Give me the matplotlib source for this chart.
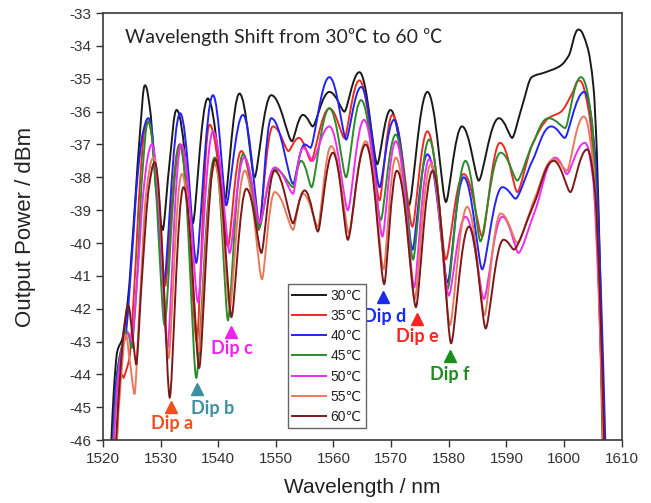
import numpy as np
import matplotlib
matplotlib.use("Agg")
import matplotlib.pyplot as plt
from matplotlib.path import Path
from matplotlib.patches import PathPatch
from matplotlib.lines import Line2D

# ---------------- data ----------------
temps = ["30℃", "35℃", "40℃", "45℃", "50℃", "55℃", "60℃"]

wl_30 = [1521.4, 1521.9, 1522.5, 1523.4, 1524.3, 1525.5, 1526.5, 1527.3, 1528.2, 1529.3, 1530.4, 1531.6, 1532.8, 1535.6, 1538.2, 1541.1, 1543.7, 1546.3, 1549.2, 1552.8, 1554.7, 1556.4, 1559.3, 1561.9, 1564.5, 1567.6, 1569.9, 1573.1, 1576.3, 1579.5, 1582.3, 1585.2, 1588.7, 1591.0, 1592.7, 1594.4, 1596.8, 1599.4, 1600.8, 1602.5, 1604.0, 1605.1, 1605.7, 1606.3, 1607.0]
pw_30 = [-46.3, -44.5, -43.3, -42.9, -41.8, -39.0, -36.5, -35.2, -35.95, -38.5, -39.6, -37.5, -35.95, -39.4, -35.6, -38.8, -35.45, -38.0, -35.5, -36.9, -36.1, -36.45, -35.4, -36.0, -34.8, -37.6, -35.95, -38.85, -35.4, -38.75, -36.45, -38.1, -36.2, -36.8, -35.85, -34.95, -34.8, -34.6, -34.3, -33.5, -34.0, -35.25, -37.3, -41.3, -46.3]

wl_35 = [1522.4, 1522.8, 1523.2, 1523.6, 1524.0, 1524.6, 1525.4, 1526.5, 1527.2, 1527.8, 1530.8, 1533.3, 1536.3, 1538.5, 1541.7, 1544.0, 1547.0, 1549.5, 1552.2, 1554.0, 1556.1, 1559.3, 1561.9, 1564.5, 1568.0, 1570.2, 1573.7, 1576.3, 1579.5, 1582.6, 1585.8, 1588.9, 1591.9, 1594.5, 1597.3, 1599.5, 1601.4, 1602.6, 1604.3, 1605.3, 1606.0, 1606.7]
pw_35 = [-46.3, -44.4, -44.0, -44.1, -43.9, -43.5, -41.5, -38.0, -36.6, -36.3, -41.3, -37.0, -43.0, -36.4, -40.1, -37.2, -39.6, -36.45, -37.2, -36.8, -37.5, -35.9, -36.8, -35.05, -38.7, -36.1, -39.5, -36.6, -40.5, -37.9, -39.8, -36.95, -38.45, -37.0, -36.2, -36.0, -35.45, -35.05, -36.0, -38.0, -41.0, -46.3]

wl_40 = [1521.6, 1522.3, 1523.1, 1523.9, 1525.0, 1526.0, 1527.0, 1527.9, 1530.6, 1533.4, 1536.2, 1539.1, 1541.4, 1544.3, 1547.2, 1549.2, 1553.0, 1555.0, 1556.0, 1559.3, 1562.2, 1564.8, 1568.0, 1570.5, 1573.7, 1576.3, 1579.8, 1582.6, 1585.8, 1589.3, 1591.6, 1594.5, 1597.8, 1600.1, 1603.5, 1605.4, 1606.4, 1607.2]
pw_40 = [-46.3, -44.2, -43.3, -42.85, -40.5, -38.0, -36.6, -36.2, -41.2, -36.05, -40.6, -35.5, -38.85, -36.1, -39.45, -36.2, -38.2, -37.0, -37.1, -34.95, -36.85, -35.25, -38.3, -36.25, -40.2, -37.3, -41.2, -38.0, -40.8, -38.3, -38.65, -37.5, -36.45, -36.8, -35.4, -37.3, -41.5, -46.3]

wl_45 = [1521.7, 1522.6, 1523.5, 1524.2, 1525.0, 1525.8, 1526.8, 1527.9, 1530.7, 1533.4, 1536.2, 1539.4, 1541.7, 1544.3, 1547.1, 1549.8, 1553.0, 1554.4, 1556.2, 1559.3, 1562.2, 1564.8, 1568.2, 1570.8, 1573.8, 1576.6, 1579.8, 1582.9, 1585.5, 1589.0, 1591.9, 1594.5, 1597.3, 1600.2, 1602.9, 1604.8, 1605.9, 1606.8]
pw_45 = [-46.3, -44.0, -43.0, -42.7, -43.2, -41.5, -38.0, -36.3, -42.5, -37.0, -44.1, -37.4, -42.35, -37.3, -39.55, -37.75, -38.3, -37.5, -38.3, -35.9, -38.0, -35.65, -39.3, -36.7, -40.5, -36.85, -41.4, -37.5, -39.95, -37.25, -38.1, -37.0, -36.2, -36.5, -34.95, -36.25, -40.3, -46.3]

wl_50 = [1521.8, 1522.7, 1523.6, 1524.4, 1525.0, 1526.0, 1527.0, 1528.0, 1528.5, 1531.2, 1533.6, 1536.5, 1539.1, 1542.0, 1544.5, 1547.2, 1549.8, 1553.0, 1554.7, 1556.4, 1559.3, 1562.5, 1565.3, 1568.5, 1570.8, 1574.0, 1576.6, 1580.0, 1582.9, 1586.1, 1589.3, 1592.1, 1595.0, 1598.5, 1600.5, 1603.6, 1605.0, 1606.0, 1606.9]
pw_50 = [-46.3, -44.0, -43.0, -42.75, -43.0, -41.0, -38.5, -37.2, -37.0, -43.2, -37.0, -41.8, -36.6, -40.3, -37.4, -39.4, -37.7, -38.5, -37.1, -37.5, -36.45, -39.0, -36.25, -39.8, -36.9, -41.35, -37.45, -41.6, -39.2, -41.7, -39.2, -40.3, -39.0, -37.4, -37.9, -36.95, -38.0, -41.5, -46.3]

wl_55 = [1522.3, 1523.2, 1524.0, 1524.6, 1525.5, 1526.5, 1527.5, 1528.8, 1531.4, 1533.7, 1536.6, 1539.4, 1542.0, 1544.6, 1547.6, 1549.8, 1553.0, 1554.7, 1557.3, 1559.6, 1562.7, 1565.6, 1568.7, 1570.8, 1574.1, 1576.9, 1580.2, 1583.2, 1586.2, 1589.0, 1591.9, 1595.0, 1598.2, 1600.5, 1603.4, 1605.0, 1606.0, 1606.9]
pw_55 = [-46.3, -44.0, -42.8, -43.5, -44.6, -41.5, -38.5, -37.4, -43.5, -37.9, -43.3, -37.6, -42.0, -37.8, -41.1, -38.45, -39.6, -38.5, -39.5, -37.05, -39.7, -36.9, -40.8, -37.4, -41.7, -37.6, -42.5, -38.9, -42.2, -39.1, -40.0, -38.6, -37.45, -37.8, -36.15, -37.5, -41.0, -46.3]

wl_60 = [1522.2, 1523.0, 1523.8, 1524.4, 1525.0, 1525.8, 1526.8, 1528.0, 1529.0, 1531.6, 1534.0, 1536.7, 1539.5, 1542.3, 1544.9, 1547.5, 1549.8, 1553.0, 1555.0, 1557.3, 1559.9, 1562.5, 1565.6, 1568.8, 1571.0, 1574.3, 1577.2, 1580.4, 1583.5, 1586.4, 1589.5, 1591.3, 1594.8, 1598.2, 1601.1, 1604.0, 1605.3, 1606.2, 1607.0]
pw_60 = [-46.3, -44.0, -42.4, -41.9, -42.6, -43.7, -41.0, -38.3, -37.55, -44.7, -38.3, -43.8, -37.45, -42.25, -38.35, -40.3, -37.8, -39.4, -38.4, -39.65, -37.25, -39.9, -37.0, -41.25, -37.8, -41.95, -37.8, -43.05, -39.5, -42.6, -39.9, -40.2, -38.8, -37.5, -38.45, -37.15, -38.3, -41.5, -46.3]

dip_names = ["Dip a", "Dip b", "Dip c", "Dip d", "Dip e", "Dip f"]
dip_wl = [1531.75, 1536.3, 1542.15, 1568.6, 1574.45, 1580.2]
dip_pw = [-45.0, -44.45, -42.7, -41.65, -42.3, -43.45]

x_ticks = [1520, 1530, 1540, 1550, 1560, 1570, 1580, 1590, 1600, 1610]
y_ticks = list(range(-46, -32))

# ---------------- styling ----------------
series = [(wl_30, pw_30), (wl_35, pw_35), (wl_40, pw_40), (wl_45, pw_45),
          (wl_50, pw_50), (wl_55, pw_55), (wl_60, pw_60)]
colors = ["#1a1a1a", "#ee2a24", "#2424f0", "#2a8c2a", "#f02cf0", "#e87a5c", "#7c1818"]
dip_colors = ["#f0501e", "#3d8fa2", "#ee22ee", "#1a2aee", "#ff2222", "#1c8c1c"]
dip_text_off = [(1, -16), (16, -19), (1, -17), (2, -19), (1, -18), (0, -18)]


def smooth_path(x, y, f_min=0.2, f_max=0.44):
    """Bezier path through the points, zero slope at turning points;
    short handles at troughs (sharp dips), long handles at crests."""
    x = np.asarray(x, float)
    y = np.asarray(y, float)
    n = len(x)
    h = np.diff(x)
    d = np.diff(y) / h
    m = np.zeros_like(y)
    f = np.full(n, 1 / 3)
    for k in range(1, n - 1):
        if d[k - 1] * d[k] > 0:
            w1 = 2 * h[k] + h[k - 1]
            w2 = h[k] + 2 * h[k - 1]
            m[k] = (w1 + w2) / (w1 / d[k - 1] + w2 / d[k])
        elif d[k - 1] < 0 < d[k]:
            f[k] = f_min
        elif d[k - 1] > 0 > d[k]:
            f[k] = f_max
    m[0] = d[0]
    m[-1] = d[-1]
    verts = [(x[0], y[0])]
    codes = [Path.MOVETO]
    for i in range(n - 1):
        hh = h[i]
        a = f[i] * hh
        b = f[i + 1] * hh
        verts += [(x[i] + a, y[i] + m[i] * a),
                  (x[i + 1] - b, y[i + 1] - m[i + 1] * b),
                  (x[i + 1], y[i + 1])]
        codes += [Path.CURVE4] * 3
    return Path(verts, codes)


plt.rcParams['font.family'] = ['Liberation Sans', 'DejaVu Sans']
plt.rcParams['axes.unicode_minus'] = False

fig = plt.figure(figsize=(6.51, 5.03), dpi=100)
ax = fig.add_axes([0.158, 0.125, 0.797, 0.849])

for (wl, pw), c in zip(series, colors):
    ax.add_patch(PathPatch(smooth_path(wl, pw), fill=False, edgecolor=c,
                           lw=1.4, transform=ax.transData))

ax.set_xlim(1520, 1610)
ax.set_ylim(-46, -33)
ax.set_xticks(x_ticks)
ax.set_yticks(y_ticks)
ax.tick_params(direction='out', length=5, width=1, labelsize=11,
               colors='#333333', labelcolor='#333333')
for s in ax.spines.values():
    s.set_color('#3a3a3a')
    s.set_linewidth(1.2)

ax.set_xlabel("Wavelength / nm", fontsize=15, color='#222222', labelpad=9)
ax.set_ylabel("Output Power / dBm", fontsize=16, color='#222222', labelpad=24)

ax.text(0.042, 0.944, "Wavelength Shift from 30℃ to 60 ℃", transform=ax.transAxes,
        ha='left', va='center', fontsize=14, color='#262626',
        family=['Lato', 'Noto Sans CJK SC', 'DejaVu Sans'])

handles = [Line2D([], [], color=c, lw=1.4) for c in colors]
leg = ax.legend(handles, temps, loc='lower left', bbox_to_anchor=(0.356, 0.028),
                borderaxespad=0, fontsize=10, fancybox=False, framealpha=1,
                edgecolor='#666666', handlelength=2.5, handletextpad=0.3,
                labelspacing=0.45, borderpad=0.3)
leg.get_frame().set_linewidth(1.0)
for t in leg.get_texts():
    t.set_color('#222222')

for name, x, y, c, off in zip(dip_names, dip_wl, dip_pw, dip_colors, dip_text_off):
    ax.plot([x], [y], marker='^', ms=9, color=c, linestyle='none')
    ax.annotate(name, (x, y), xytext=off, textcoords='offset pixels',
                ha='center', va='center', fontsize=13, fontweight='bold',
                color=c, family=['Lato', 'DejaVu Sans'])

fig.savefig("out.png", dpi=100)
